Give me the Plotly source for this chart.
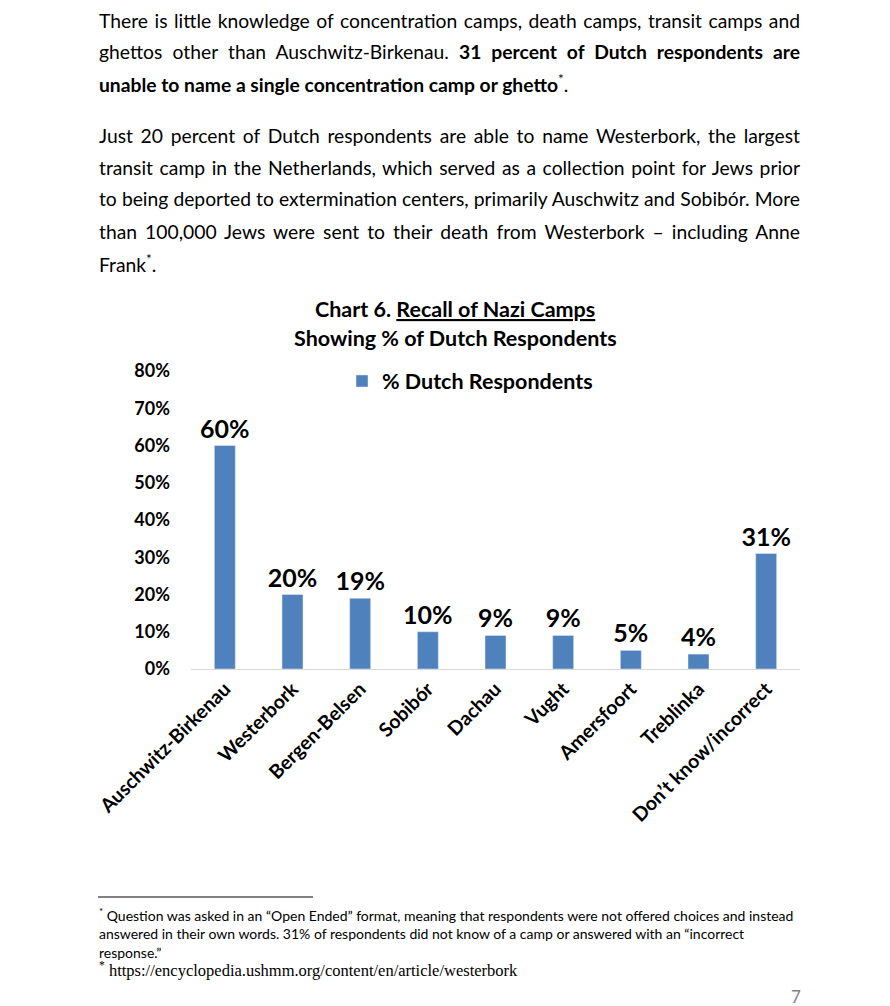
import plotly.graph_objects as go

categories = ["Auschwitz-Birkenau", "Westerbork", "Bergen-Belsen", "Sobibór", "Dachau",
              "Vught", "Amersfoort", "Treblinka", "Don’t know/incorrect"]
values = [0.60, 0.20, 0.19, 0.10, 0.09, 0.09, 0.05, 0.04, 0.31]
series_name = "% Dutch Respondents"
y_ticks = [0, 0.1, 0.2, 0.3, 0.4, 0.5, 0.6, 0.7, 0.8]

W, H = 890, 1006
L, R, T, B = 191, 800, 371, 669
FONT = "Lato, Open Sans, sans-serif"
SERIF = "Liberation Serif, DejaVu Serif, serif"
BLUE = "#4f81bd"

def px(x):
    return (x - L) / (R - L)

def py(y):
    return (B - y) / (B - T)

fig = go.Figure()
fig.add_trace(go.Bar(
    x=categories, y=values, name="<b>" + series_name + "</b>", marker_color=BLUE, width=0.31,
    text=[f"{v*100:.0f}%" for v in values], textposition="outside", constraintext="none",
    textfont=dict(family=FONT, size=25, color="#000000", weight="bold"), cliponaxis=False,
    showlegend=True,
))

fig.update_layout(
    width=W, height=H,
    margin=dict(l=L, r=W - R, t=T, b=H - B, pad=0),
    paper_bgcolor="white", plot_bgcolor="white",
    font=dict(family=FONT, color="#000000"),
    showlegend=True,
    legend=dict(x=px(470), y=py(381), xanchor="center", yanchor="middle",
                orientation="h", font=dict(family=FONT, size=21.5, color="#000000"),
                bgcolor="rgba(0,0,0,0)", itemwidth=30),
    xaxis=dict(showline=True, linecolor="#d9d9d9", linewidth=1, ticks="",
               tickangle=-45, tickfont=dict(family=FONT, size=19.5, color="#000000", weight="bold"),
               showgrid=False),
    yaxis=dict(range=[0, 0.8], tickvals=y_ticks, tickformat=".0%", showgrid=False,
               showline=False, zeroline=False, ticks="",
               tickfont=dict(family=FONT, size=18, color="#000000", weight="bold"),
               ticklabelstandoff=20),
)

def txt(x, y, s, size=19.3, family=FONT, anchor="left", color="#000000"):
    fig.add_annotation(x=px(x), y=py(y), xref="paper", yref="paper", text=s,
                       showarrow=False, xanchor=anchor, yanchor="middle", align=anchor,
                       font=dict(family=family, size=size, color=color))

body = [
    (20, "There is little knowledge of concentration camps, death camps, transit camps and"),
    (52, "ghettos other than Auschwitz-Birkenau. <b>31 percent of Dutch respondents are</b>"),
    (84, "<b>unable to name a single concentration camp or ghetto</b><sup>*</sup>."),
    (135, "Just 20 percent of Dutch respondents are able to name Westerbork, the largest"),
    (167, "transit camp in the Netherlands, which served as a collection point for Jews prior"),
    (199, "to being deported to extermination centers, primarily Auschwitz and Sobibór. More"),
    (231, "than 100,000 Jews were sent to their death from Westerbork – including Anne"),
    (263, "Frank<sup>*</sup>."),
]
for y, s in body:
    txt(97, y, s)

txt(455, 309, "<b>Chart 6. <u>Recall of Nazi Camps</u></b>", size=21.5, anchor="center")
txt(455, 338, "<b>Showing % of Dutch Respondents</b>", size=21.5, anchor="center")

fig.add_shape(type="line", xref="paper", yref="paper", x0=px(98), x1=px(313),
              y0=py(897), y1=py(897), line=dict(color="#000000", width=1))

txt(97, 914, "<sup>*</sup> Question was asked in an “Open Ended” format, meaning that respondents were not offered choices and instead", size=14)
txt(97, 933, "answered in their own words. 31% of respondents did not know of a camp or answered with an “incorrect", size=14)
txt(97, 952, "response.”", size=14)
txt(97, 970, "<sup>*</sup> https://encyclopedia.ushmm.org/content/en/article/westerbork", size=16.5, family=SERIF)
txt(796, 997, "7", size=17, anchor="center", color="#7f7f7f")

# justify the full body lines (indices of annotations) to the right text edge
justify_js = """
document.body.style.margin='0';document.body.style.overflow='hidden';
[0,1,3,4,5,6].forEach(function(i){
  var t=document.querySelector('g.annotation[data-index="'+i+'"] text.annotation-text');
  if(!t){return;}
  var r=t.getBoundingClientRect();
  var n=(t.textContent.match(/ /g)||[]).length;
  if(n>0 && r.right<800){t.style.wordSpacing=((800-r.right)/n)+'px';}
});
"""

fig.write_html("out.html", config={"displayModeBar": False}, post_script=justify_js)
